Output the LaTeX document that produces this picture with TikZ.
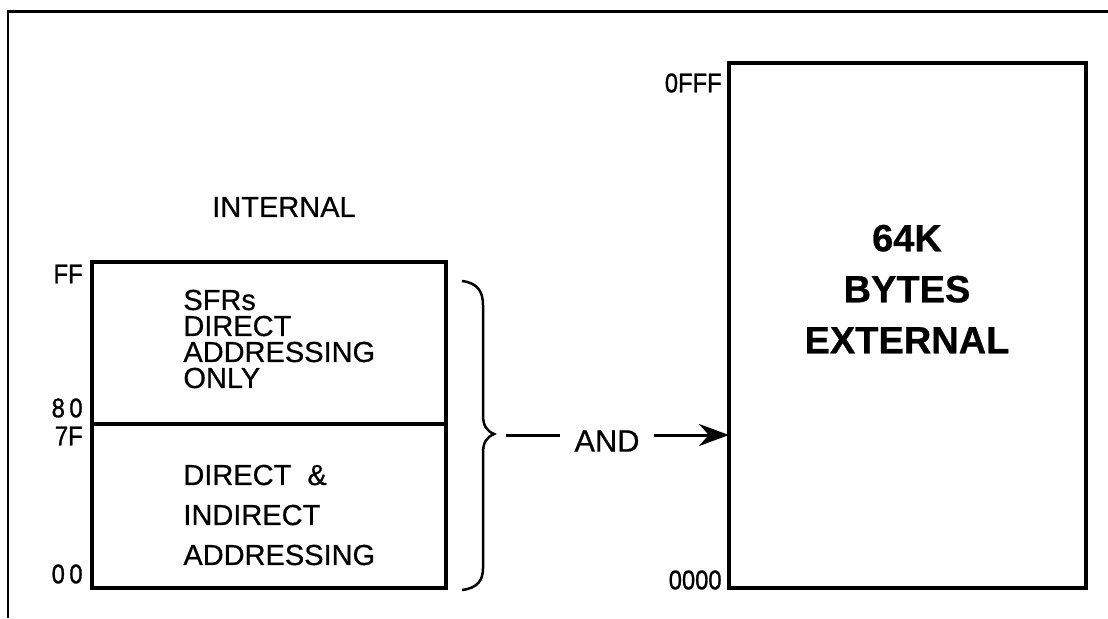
\documentclass[tikz,border=0pt]{standalone}
\usepackage{fontspec}
\setmainfont[FakeBold=0.6]{Liberation Sans}
\newfontfamily\narrowfont[FakeStretch=0.88,FakeBold=1]{Liberation Sans}
\usepackage{tikz}
\usetikzlibrary{positioning,calc,arrows.meta}

\newcommand\addrfont{\narrowfont\fontsize{13.5}{14}\selectfont}
\newcommand\memfont{\fontsize{14.5}{16}\selectfont}

\begin{document}
\begin{tikzpicture}[x=0.5pt, y=-0.5pt, >={Stealth[length=15pt,width=11pt]},
  mem/.style={draw, line width=2pt, inner sep=0pt, outer sep=0pt},
  addr/.style={anchor=east, inner sep=0pt, font=\addrfont},
  memtext/.style={anchor=west, align=left, inner sep=0pt}]
  \useasboundingbox (0,0) rectangle (1108,618);
  \draw[line width=1.3pt] (8,618) -- (8,11.5) -- (1108,11.5);

  % internal memory
  \node[font=\memfont] (int) at (284,207) {INTERNAL};
  \node[mem, minimum width=177pt, minimum height=81pt] (sfr) at (268.75,343) {};
  \node[mem, minimum width=177pt, minimum height=82pt, below=0pt of sfr] (dir) {};
  \node[memtext, font=\fontsize{14.5}{13}\selectfont] (sfrtxt) at (183,339)
    {SFRs\\DIRECT\\ADDRESSING\\ONLY};
  \node[memtext, font=\fontsize{14.5}{20}\selectfont] (dirtxt) at (183,515)
    {DIRECT \ \&\\INDIRECT\\ADDRESSING};
  \node[addr] (ff) at (83,274) {FF};
  \node[addr] (a80) at (83,408) {8\,0};
  \node[addr] (a7f) at (83,436) {7F};
  \node[addr] (a00) at (83,574) {0\,0};

  % external memory
  \node[mem, minimum width=178.5pt, minimum height=262.5pt] (ext) at (907.5,325.5) {};
  \node[align=center, inner sep=0pt, font=\fontsize{19}{25.5}\bfseries] (exttxt) at (907,289)
    {64K\\BYTES\\EXTERNAL};
  \node[addr] (fff) at (722,83) {0FFF};
  \node[addr] (zero) at (722,580) {0000};

  % brace and arrow
  \draw[line width=1.25pt] (462,281) .. controls (478,283) and (483,292) .. (483,305)
    -- (483,415) .. controls (483,426) and (487,431) .. (494,434)
    .. controls (487,437) and (483,442) .. (483,453)
    -- (483,568) .. controls (483,580) and (478,588) .. (462,590);
  \coordinate (bracetip) at (506,435);
  \node[font=\fontsize{15.4}{16}\selectfont, inner xsep=7.25pt] (and) at (607,441) {AND};
  \draw[line width=1.5pt] (bracetip) -- (bracetip -| and.west);
  \draw[->, line width=1.5pt] (bracetip -| and.east) -- (bracetip -| ext.west);
\end{tikzpicture}
\end{document}
